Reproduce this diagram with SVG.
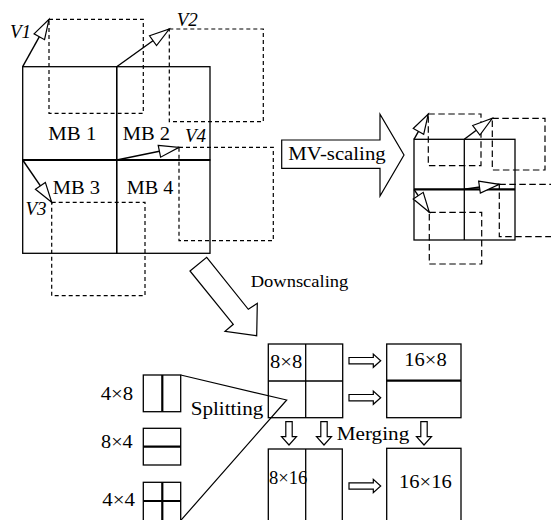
<svg xmlns="http://www.w3.org/2000/svg" width="551" height="520" viewBox="0 0 551 520" font-family="'Liberation Serif', 'Times New Roman', serif">
<style>
  .box{fill:none;stroke:#000;stroke-width:1.3}
  .thick{fill:none;stroke:#000;stroke-width:2.2}
  .dash{fill:none;stroke:#000;stroke-width:1.2;stroke-dasharray:4 3}
  .dash2{fill:none;stroke:#000;stroke-width:1.2;stroke-dasharray:6.5 3.5}
  .mv{fill:none;stroke:#000;stroke-width:1.4;marker-end:url(#hollow)}
  .hollow{fill:#fff;stroke:#000;stroke-width:1.2}
  .ln{fill:none;stroke:#000;stroke-width:1.2}
  text{font-family:'Liberation Serif','Times New Roman',serif;fill:#000}
  .lbl{font-size:18px}
  .v{font-size:19px;font-style:italic}
</style>
<defs>
  <marker id="hollow" markerUnits="userSpaceOnUse" markerWidth="24" markerHeight="16" refX="20" refY="6" orient="auto" overflow="visible">
    <path d="M0,0 L20,6 L0,12 Z" fill="#fff" stroke="#000" stroke-width="1.2"/>
  </marker>
  <path id="rarrow" d="M0,-3.2 H24.3 V-6.6 L31.7,0 L24.3,6.6 V3.2 H0 Z"/>
  <path id="darrow" d="M-3.2,0 V15 H-7.5 L0,23.3 L7.5,15 H3.2 V0 Z"/>
</defs>

<!-- reference (dashed) blocks, left -->
<g id="ref-blocks">
  <rect class="dash" x="49" y="19.3" width="94.3" height="94"/>
  <rect class="dash" x="169.3" y="29" width="94" height="92.7"/>
  <rect class="dash" x="179" y="147.3" width="94.3" height="93.4"/>
  <rect class="dash" x="51.7" y="202.3" width="93.3" height="93.4"/>
</g>

<!-- macroblocks -->
<g id="mb1"><rect class="box" x="22.7" y="66.7" width="94" height="93.3"/><text class="lbl" x="48.3" y="140" textLength="48" lengthAdjust="spacingAndGlyphs">MB 1</text></g>
<g id="mb2"><rect class="box" x="116.7" y="66.7" width="93.3" height="93.3"/><text class="lbl" x="122.7" y="140" textLength="47.3" lengthAdjust="spacingAndGlyphs">MB 2</text></g>
<g id="mb3"><rect class="box" x="22.7" y="160" width="94" height="93.3"/><text class="lbl" x="52.7" y="194" textLength="47.3" lengthAdjust="spacingAndGlyphs">MB 3</text></g>
<g id="mb4"><rect class="box" x="116.7" y="160" width="93.3" height="93.3"/><text class="lbl" x="126.7" y="194" textLength="46.6" lengthAdjust="spacingAndGlyphs">MB 4</text></g>
<line class="thick" x1="22.7" y1="160" x2="210" y2="160"/>

<!-- V labels -->
<g id="v-labels">
  <text class="v" x="10" y="38">V1</text>
  <text class="v" x="176.7" y="26">V2</text>
  <text class="v" x="185" y="141.7">V4</text>
  <text class="v" x="25.5" y="215">V3</text>
</g>

<!-- scaled grid (right) -->
<g id="scaled-grid">
  <rect class="dash2" x="428.3" y="114" width="52.7" height="51.7"/>
  <rect class="dash2" x="492.3" y="118.3" width="52.7" height="51.7"/>
  <rect class="dash2" x="499.3" y="184.3" width="60" height="52.4"/>
  <rect class="dash2" x="429.3" y="212.3" width="52.4" height="51.7"/>
  <rect class="box" x="414" y="139.3" width="101" height="100.7"/>
  <line class="box" x1="464.3" y1="139.3" x2="464.3" y2="240"/>
  <line class="thick" x1="414" y1="189.3" x2="515" y2="189.3"/>
</g>

<!-- MV-scaling arrow -->
<g id="mv-scaling">
  <polygon class="hollow" points="281.7,140 380,140 380,114.3 404,155 380,196 380,168.3 281.7,168.3"/>
  <text class="lbl" x="288.3" y="160" textLength="97.4" lengthAdjust="spacingAndGlyphs">MV-scaling</text>
</g>

<!-- Downscaling arrow -->
<g id="downscaling">
  <polygon class="hollow" points="190,271 206.7,257.3 248.3,309.3 257.3,303.3 256.7,335.7 225,331.3 233.3,324.3"/>
  <text style="font-size:16.5px" x="250.7" y="286.7" textLength="97.6" lengthAdjust="spacingAndGlyphs">Downscaling</text>
</g>

<!-- partitions -->
<g id="part-4x8">
  <rect class="box" x="143.3" y="375" width="37.4" height="36.7"/>
  <line class="thick" x1="162.3" y1="375" x2="162.3" y2="411.7"/>
  <text class="lbl" x="100.7" y="400" textLength="32.6" lengthAdjust="spacingAndGlyphs">4×8</text>
</g>
<g id="part-8x4">
  <rect class="box" x="143.3" y="428.3" width="37.4" height="36.7"/>
  <line class="thick" x1="143.3" y1="446.7" x2="180.7" y2="446.7"/>
  <text class="lbl" x="101" y="447.7" textLength="31.7" lengthAdjust="spacingAndGlyphs">8×4</text>
</g>
<g id="part-4x4">
  <rect class="box" x="143.3" y="482.3" width="37.4" height="45"/>
  <line class="thick" x1="162.3" y1="482.3" x2="162.3" y2="522"/>
  <line class="thick" x1="143.3" y1="501" x2="180.7" y2="501"/>
  <text class="lbl" x="102.3" y="506" textLength="32.7" lengthAdjust="spacingAndGlyphs">4×4</text>
</g>

<!-- 8x8 grid -->
<g id="grid-8x8">
  <rect class="box" x="268.3" y="344" width="74.4" height="73.7"/>
  <line class="box" x1="305.7" y1="344" x2="305.7" y2="417.7"/>
  <line class="box" x1="268.3" y1="381" x2="342.7" y2="381"/>
  <text class="lbl" x="270" y="367.7" textLength="32.3" lengthAdjust="spacingAndGlyphs">8×8</text>
</g>
<g id="grid-16x8">
  <rect class="box" x="386.7" y="344" width="74.3" height="73.7"/>
  <line class="thick" x1="386.7" y1="380.7" x2="461" y2="380.7"/>
  <text class="lbl" x="404.3" y="366" textLength="42.4" lengthAdjust="spacingAndGlyphs">16×8</text>
</g>
<g id="grid-8x16">
  <rect class="box" x="268.3" y="449" width="74" height="80"/>
  <line class="box" x1="305.7" y1="449" x2="305.7" y2="529"/>
  <text class="lbl" x="269" y="484.3" textLength="38.3" lengthAdjust="spacingAndGlyphs">8×16</text>
</g>
<g id="grid-16x16">
  <rect class="box" x="386.7" y="448.3" width="74.3" height="80"/>
  <text class="lbl" x="399" y="487.7" textLength="52.7" lengthAdjust="spacingAndGlyphs">16×16</text>
</g>

<g id="labels">
  <text style="font-size:19px" x="190.7" y="415" textLength="72.6" lengthAdjust="spacingAndGlyphs">Splitting</text>
  <text class="lbl" x="336.7" y="440" textLength="72.6" lengthAdjust="spacingAndGlyphs">Merging</text>
</g>

<!-- connectors -->
<g id="connectors">
  <line class="mv" x1="22.7" y1="66.7" x2="49" y2="19.3"/>
  <line class="mv" x1="116.7" y1="66.7" x2="169.3" y2="29"/>
  <line class="mv" x1="116.7" y1="160" x2="179" y2="147.3"/>
  <line class="mv" x1="22.7" y1="160" x2="51.7" y2="202.3"/>
  <line class="mv" x1="414" y1="139.3" x2="428.3" y2="114"/>
  <line class="mv" x1="464.3" y1="139.3" x2="492.3" y2="118.3"/>
  <line class="mv" x1="464.3" y1="189.3" x2="499.3" y2="184.3"/>
  <line class="mv" x1="414" y1="189.3" x2="429.3" y2="212.3"/>
  <polyline class="ln" points="180.7,375 286.7,400 180.7,520.5"/>
  <use href="#rarrow" class="hollow" x="349" y="360.7"/>
  <use href="#rarrow" class="hollow" x="349" y="397.7"/>
  <use href="#rarrow" class="hollow" x="349" y="486"/>
  <use href="#darrow" class="hollow" x="289" y="421.7"/>
  <use href="#darrow" class="hollow" x="324" y="421.7"/>
  <use href="#darrow" class="hollow" x="424" y="421.7"/>
</g>
</svg>
